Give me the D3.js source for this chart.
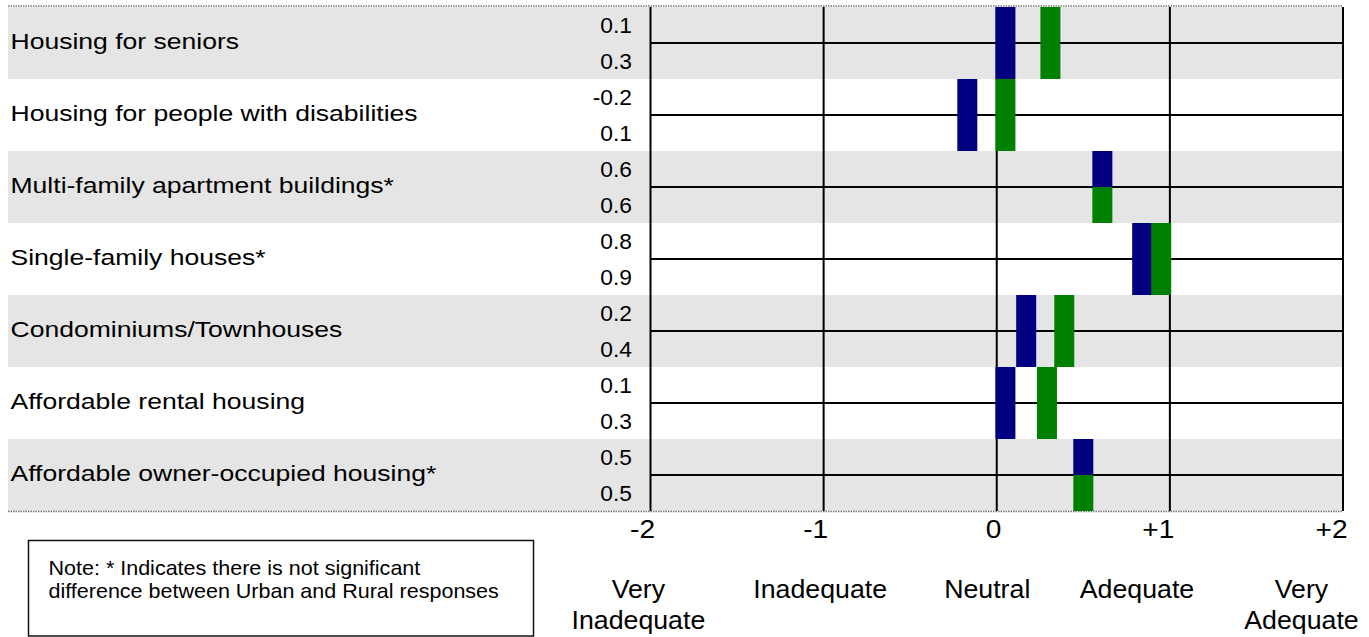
<!DOCTYPE html>
<html>
<head>
<meta charset="utf-8">
<script src="https://cdn.jsdelivr.net/npm/d3@7"></script>
<style>
  html, body { margin: 0; padding: 0; background: #fff; }
  svg { display: block; font-family: "Liberation Sans", Arial, sans-serif; }
</style>
</head>
<body>
<svg id="chart" width="1369" height="637"></svg>
<script>
// ---- data ----
const categories = [
  "Housing for seniors",
  "Housing for people with disabilities",
  "Multi-family apartment buildings*",
  "Single-family houses*",
  "Condominiums/Townhouses",
  "Affordable rental housing",
  "Affordable owner-occupied housing*"
];
const urbanLabels = ["0.1", "-0.2", "0.6", "0.8", "0.2", "0.1", "0.5"];
const ruralLabels = ["0.3", "0.1", "0.6", "0.9", "0.4", "0.3", "0.5"];
const urbanMeans = [0.05, -0.17, 0.61, 0.84, 0.17, 0.05, 0.50];
const ruralMeans = [0.31, 0.05, 0.61, 0.95, 0.39, 0.29, 0.50];
const tickValues = [-2, -1, 0, 1, 2];
const tickLabels = ["-2", "-1", "0", "+1", "+2"];
const scaleLabels = [["Very", "Inadequate"], ["Inadequate"], ["Neutral"], ["Adequate"], ["Very", "Adequate"]];
const scaleLabelPos = [-2.07, -1.02, -0.055, 0.81, 1.76];
const noteLines = [
  "Note: * Indicates there is not significant",
  "difference between Urban and Rural responses"
];

// ---- layout ----
const svg = d3.select("#chart");
const x = d3.scaleLinear().domain([-2, 2]).range([650.5, 1343]);
const y = d3.scaleBand().domain(categories).range([7, 511]).padding(0);
const bw = 20;
const blue = "#000080", green = "#008000", band = "#e5e5e5";

// helper: text with horizontal stretch
function stext(parent, tx, ty, str, size, sx, anchor) {
  const g = parent.append("g").attr("transform", `translate(${tx},${ty}) scale(${sx},1)`);
  g.append("text").attr("x", 0).attr("y", 0)
    .attr("font-size", size).attr("fill", "#000")
    .attr("text-anchor", anchor || "start").text(str);
  return g;
}

// background bands
svg.append("g").selectAll("rect").data(categories).join("rect")
  .attr("x", 8).attr("width", 1343 - 8)
  .attr("y", d => y(d)).attr("height", y.bandwidth())
  .attr("fill", (d, i) => i % 2 === 0 ? band : "#fff");

// top / bottom dotted borders
[6, 511.5].forEach(yy => {
  svg.append("line").attr("x1", 8).attr("x2", 1343).attr("y1", yy).attr("y2", yy)
    .attr("stroke", "#777").attr("stroke-width", 1.5).attr("stroke-dasharray", "1.5,1");
});

// vertical grid
svg.append("g").selectAll("line").data(tickValues).join("line")
  .attr("x1", d => x(d)).attr("x2", d => x(d))
  .attr("y1", 7).attr("y2", 511)
  .attr("stroke", "#000").attr("stroke-width", 2);

// horizontal midlines
svg.append("g").selectAll("line").data(categories).join("line")
  .attr("x1", x(-2)).attr("x2", x(2))
  .attr("y1", d => y(d) + y.bandwidth() / 2).attr("y2", d => y(d) + y.bandwidth() / 2)
  .attr("stroke", "#000").attr("stroke-width", 2);

// bars
const bars = [];
categories.forEach((c, i) => {
  const split = urbanLabels[i] === ruralLabels[i];
  const h = y.bandwidth();
  bars.push({ c, v: urbanMeans[i], color: blue, y0: y(c), h: split ? h / 2 : h });
  bars.push({ c, v: ruralMeans[i], color: green, y0: split ? y(c) + h / 2 : y(c), h: split ? h / 2 : h });
});
svg.append("g").selectAll("rect").data(bars).join("rect")
  .attr("x", d => x(d.v) - bw / 2).attr("width", bw)
  .attr("y", d => d.y0).attr("height", d => d.h)
  .attr("fill", d => d.color);

// category labels
const cg = svg.append("g");
categories.forEach(c => stext(cg, 10.5, y(c) + y.bandwidth() / 2 + 5.5, c, 22.5, 1.18));

// value labels
const vg = svg.append("g");
categories.forEach((c, i) => {
  stext(vg, 632, y(c) + y.bandwidth() / 4 + 7.5, urbanLabels[i], 21.5, 1.06, "end");
  stext(vg, 632, y(c) + 3 * y.bandwidth() / 4 + 7.5, ruralLabels[i], 21.5, 1.06, "end");
});

// axis
const axis = d3.axisBottom(x).tickValues(tickValues).tickSize(0)
  .tickFormat((d, i) => tickLabels[i]);
const ag = svg.append("g").attr("transform", "translate(0,518)").call(axis);
ag.select(".domain").remove();
ag.selectAll(".tick text")
  .attr("font-size", 26).attr("font-family", "Liberation Sans, Arial, sans-serif")
  .attr("fill", "#000").attr("text-anchor", "end")
  .attr("x", 0).attr("y", 0).attr("dy", 0)
  .attr("transform", "translate(4,20) scale(1.08,1)");

// scale descriptors
const sg = svg.append("g");
scaleLabels.forEach((lines, i) => {
  lines.forEach((t, j) => stext(sg, x(scaleLabelPos[i]), 598 + j * 31, t, 25, 1.07, "middle"));
});

// note box
svg.append("rect").attr("x", 28.5).attr("y", 540.5).attr("width", 505).attr("height", 95.5)
  .attr("fill", "#fff").attr("stroke", "#111").attr("stroke-width", 1.5);
const ng = svg.append("g");
noteLines.forEach((t, i) => stext(ng, 48.5, 575 + i * 23, t, 20.5, 1.05));
</script>
</body>
</html>
